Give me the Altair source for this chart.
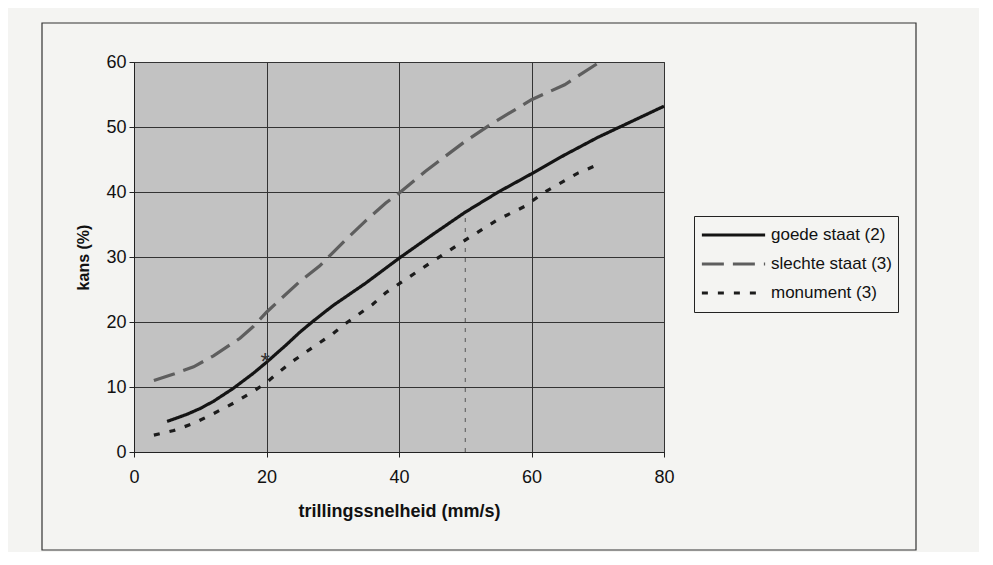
import altair as alt
import pandas as pd

# ---------------- data ----------------
series_names = ["goede staat (2)", "slechte staat (3)", "monument (3)"]

goede_x = [5, 8, 10, 12, 15, 18, 20, 23, 25, 27, 30, 35, 40, 45, 50, 55, 60, 65, 70, 75, 80]
goede_y = [4.7, 5.8, 6.7, 7.8, 9.8, 12.1, 13.8, 16.5, 18.4, 20.1, 22.5, 26.0, 29.8,
           33.4, 36.9, 40.0, 42.8, 45.7, 48.4, 50.8, 53.2]

slechte_x = [3, 6, 9, 12, 16, 18, 20, 22, 25, 28, 32, 35, 38, 40, 44, 50, 54, 60, 65, 70]
slechte_y = [11.0, 12.0, 13.1, 14.8, 17.5, 19.3, 21.5, 23.4, 26.2, 28.6, 32.7, 35.6,
             38.3, 39.8, 43.2, 47.8, 50.5, 54.2, 56.5, 59.8]

monument_x = [3, 6, 9, 12, 15, 18, 20, 22, 24, 26, 30, 32, 36, 38, 44, 50, 55, 59, 62, 67, 70]
monument_y = [2.6, 3.3, 4.4, 5.9, 7.5, 9.3, 10.7, 12.4, 14.0, 15.4, 18.2, 19.8, 22.7,
              24.5, 28.6, 32.6, 35.8, 37.8, 40.0, 42.9, 44.2]

# hand-drawn annotations on the scan
annot_line_x = [50]
annot_line_top = [36.8]
annot_star_x = [19.8]
annot_star_y = [14.7]

x_ticks = [0, 20, 40, 60, 80]
y_ticks = [0, 10, 20, 30, 40, 50, 60]

x_title = "trillingssnelheid (mm/s)"
y_title = "kans (%)"

line_colors = ["#141414", "#5e5e5e", "#1c1c1c"]
line_dashes = [[1, 0], [22, 9], [6, 10]]

# ---------------- tables ----------------
rows = []
for name, xs, ys in zip(series_names, [goede_x, slechte_x, monument_x],
                        [goede_y, slechte_y, monument_y]):
    for i, (xv, yv) in enumerate(zip(xs, ys)):
        rows.append({"serie": name, "v": xv, "kans": yv, "order": i})
df = pd.DataFrame(rows)

annot_df = pd.DataFrame({"v": annot_line_x, "kans": [0] * len(annot_line_x),
                         "kans2": annot_line_top})
star_df = pd.DataFrame({"v": annot_star_x, "kans": annot_star_y})

FONT = "Liberation Sans"


def xenc():
    return alt.X("v:Q", title=x_title,
                 scale=alt.Scale(domain=[0, 80], nice=False, zero=False),
                 axis=alt.Axis(values=x_ticks, labelFlush=False, labelOverlap=False,
                               labelPadding=11, titlePadding=16))


def yenc():
    return alt.Y("kans:Q", title=y_title,
                 scale=alt.Scale(domain=[0, 60], nice=False),
                 axis=alt.Axis(values=y_ticks, labelFlush=False, labelOverlap=False,
                               labelPadding=3, titlePadding=14))


legend = alt.Legend(title=None, orient="none", legendX=560, legendY=154,
                    symbolType="stroke", symbolSize=4000, symbolStrokeWidth=3,
                    clipHeight=26, rowPadding=3, labelOffset=4,
                    labelFont=FONT, labelFontSize=17, labelColor="#111111",
                    strokeColor="#222222", fillColor="#f4f4f2", padding=6)

frame = alt.Chart(alt.Data(values=[{"a": 1}])).mark_rect(
    filled=False, stroke="#333333", strokeWidth=1.2
).encode(x=alt.value(-92), x2=alt.value(782), y=alt.value(-39), y2=alt.value(488))

annot = alt.Chart(annot_df).mark_rule(
    color="#555555", strokeWidth=1, strokeDash=[4, 6]
).encode(x=xenc(), y=yenc(), y2="kans2:Q")

lines = alt.Chart(df).mark_line(strokeWidth=3.2).encode(
    x=xenc(),
    y=yenc(),
    order="order:Q",
    color=alt.Color("serie:N", scale=alt.Scale(domain=series_names, range=line_colors),
                    legend=legend),
    strokeDash=alt.StrokeDash("serie:N",
                              scale=alt.Scale(domain=series_names, range=line_dashes),
                              legend=legend),
)

star = alt.Chart(star_df).mark_text(
    text="*", fontSize=24, font=FONT, color="#333333", dy=7
).encode(x=xenc(), y=yenc())

chart = alt.layer(frame, annot, lines, star).properties(
    width=530, height=390,
    autosize=alt.AutoSizeParams(type="none"),
    padding={"left": 126, "top": 54, "right": 315, "bottom": 100},
    background="#f4f4f2",
).configure_view(
    fill="#c2c2c2", stroke="#444444", strokeWidth=1
).configure_axis(
    grid=True, gridColor="#333333", gridWidth=1,
    domainColor="#222222", tickColor="#222222", tickSize=5,
    labelFont=FONT, labelFontSize=18, labelColor="#111111",
    titleFont=FONT, titleFontSize=16, titleFontWeight="bold", titleColor="#111111",
).configure_axisX(titleFontSize=18)

chart.save("out.html", embed_options={"renderer": "svg", "actions": False})
